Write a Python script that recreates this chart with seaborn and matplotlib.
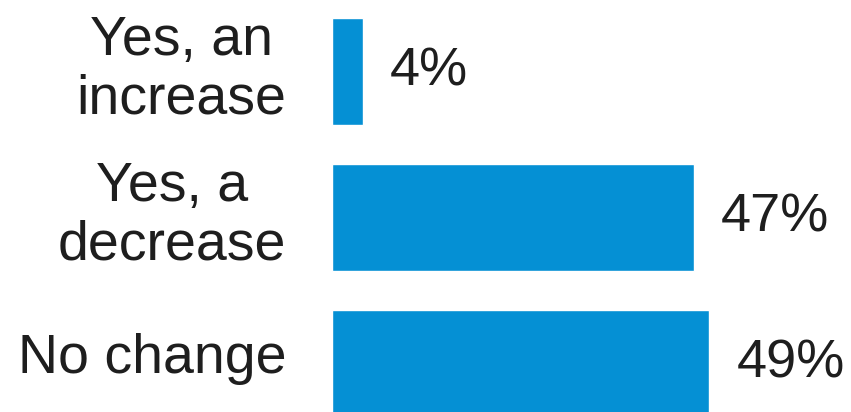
import matplotlib
matplotlib.use("Agg")
import matplotlib.pyplot as plt
import matplotlib.transforms as mtransforms
import seaborn as sns
import pandas as pd

categories = ["Yes, an\nincrease", "Yes, a\ndecrease", "No change"]
values = [4, 47, 49]
value_labels = ["4%", "47%", "49%"]

sns.set_theme(style="white")
plt.rcParams["font.family"] = ["Liberation Sans", "DejaVu Sans"]

df = pd.DataFrame({"category": categories, "share": values})

fig = plt.figure(figsize=(8.51, 4.12), dpi=100)
ax = fig.add_axes([332 / 851, 0, 1 - 332 / 851, 1])

sns.barplot(data=df, x="share", y="category", orient="h", color="#0590d4",
            saturation=1, width=0.73, ax=ax)

ax.set_xlim(0, 67.4)
ax.set_ylim(2.332, -0.49)

for i, (v, lab) in enumerate(zip(values, value_labels)):
    ax.annotate(lab, xy=(v, i), xytext=(19.5, 0), textcoords="offset points",
                ha="left", va="center", fontsize=39, color="#1e1e1e")

ax.set_xlabel("")
ax.set_ylabel("")
ax.set_xticks([])
ax.tick_params(axis="y", length=0, pad=33)

# nudge the category labels slightly upward
lift = mtransforms.ScaledTranslation(0, 11 / 100, fig.dpi_scale_trans)
for t in ax.get_yticklabels():
    t.set_fontsize(40)
    t.set_color("#1e1e1e")
    t.set_multialignment("center")
    t.set_linespacing(1.17)
    t.set_transform(t.get_transform() + lift)
for s in ax.spines.values():
    s.set_visible(False)

fig.savefig("out.png", dpi=100, facecolor="white")
